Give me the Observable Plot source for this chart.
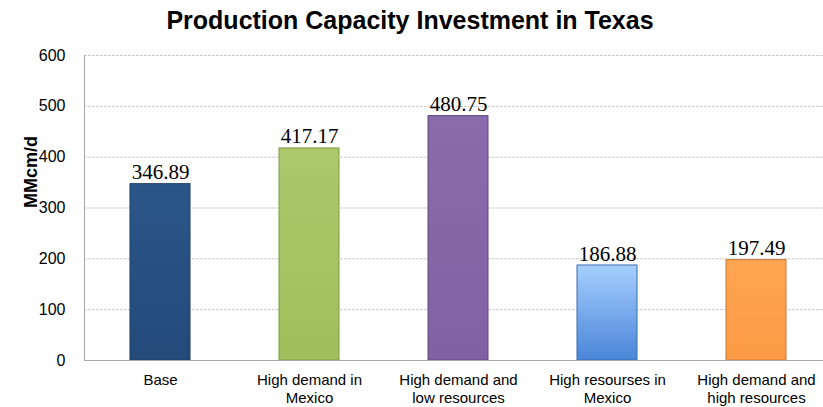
<!DOCTYPE html>
<html>
<head>
<meta charset="utf-8">
<script src="https://cdn.jsdelivr.net/npm/d3@7"></script>
<script src="https://cdn.jsdelivr.net/npm/@observablehq/plot@0.6"></script>
<style>
  html, body { margin: 0; padding: 0; background: #fff; }
  #chart svg { display: block; }
</style>
</head>
<body>
<div id="chart"></div>
<script>
const title = "Production Capacity Investment in Texas";
const yLabel = "MMcm/d";
const categories = [
  "Base",
  "High demand in\nMexico",
  "High demand and\nlow resources",
  "High resourses in\nMexico",
  "High demand and\nhigh resources"
];
const values = [346.89, 417.17, 480.75, 186.88, 197.49];
const yTicks = [0, 100, 200, 300, 400, 500, 600];
const fills = ["url(#gBase)", "url(#gGreen)", "url(#gPurple)", "url(#gBlue)", "url(#gOrange)"];
const strokes = ["#1b3c63", "#7d9a45", "#614a80", "#3a6cb0", "#c97a36"];

const data = categories.map((c, i) => ({cat: c, value: values[i], fill: fills[i], stroke: strokes[i]}));

const font = "'Liberation Sans', Arial, sans-serif";

const chart = Plot.plot({
  width: 823,
  height: 407,
  marginTop: 55,
  marginBottom: 47,
  marginLeft: 84,
  marginRight: 0,
  style: {fontFamily: font, background: "#fff", color: "#000"},
  x: {domain: categories, range: [84, 832], paddingInner: 0.6, paddingOuter: 0.3, label: null},
  y: {domain: [0, 600], label: null},
  color: {type: "identity"},
  marks: [
    Plot.ruleY(yTicks.slice(1), {stroke: "#cccccc", strokeDasharray: "3,1"}),
    Plot.barY(data, {x: "cat", y: "value", fill: "fill", stroke: "stroke", strokeWidth: 1}),
    Plot.text(data, {x: "cat", y: "value", text: d => d.value.toFixed(2), dy: -5, lineAnchor: "bottom", fontFamily: "'Liberation Serif', 'Times New Roman', serif", fontSize: 21, fill: "#000"}),
    Plot.ruleY([0], {stroke: "#a6a6a6"}),
    Plot.frame({anchor: "left", stroke: "#a6a6a6"}),
    Plot.axisY({ticks: yTicks, tickSize: 0, tickPadding: 19, fontSize: 16, label: null, tickFormat: d => String(d)}),
    Plot.axisX({tickSize: 0, tickPadding: 12, fontSize: 15, lineHeight: 1.2, label: null}),
    Plot.text([yLabel], {frameAnchor: "left", dx: -53, rotate: -90, fontWeight: "bold", fontSize: 18, fill: "#000"}),
    Plot.text([title], {frameAnchor: "top", dx: -44, dy: -44, fontWeight: "bold", fontSize: 25, fill: "#000"})
  ]
});

// gradient definitions for the bar fills
const svg = d3.select(chart);
const defs = svg.insert("defs", ":first-child");
const grads = [
  ["gBase", "#2b5689", "#234a79"],
  ["gGreen", "#abc96b", "#a0bf5c"],
  ["gPurple", "#8a6cac", "#8061a3"],
  ["gBlue", "#a6cfff", "#4a85d8"],
  ["gOrange", "#ffa552", "#fc9a45"]
];
for (const [id, c1, c2] of grads) {
  const g = defs.append("linearGradient").attr("id", id).attr("x1", 0).attr("y1", 0).attr("x2", 0).attr("y2", 1);
  g.append("stop").attr("offset", "0%").attr("stop-color", c1);
  g.append("stop").attr("offset", "100%").attr("stop-color", c2);
}

document.getElementById("chart").appendChild(chart);
</script>
</body>
</html>
